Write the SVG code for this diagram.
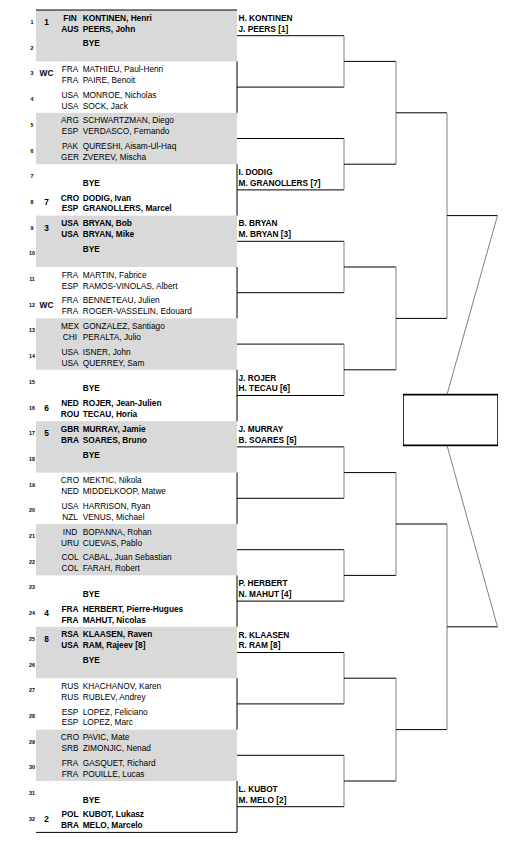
<svg xmlns="http://www.w3.org/2000/svg" width="511" height="843" viewBox="0 0 511 843">
<style>
text{font-family:"Liberation Sans",Arial,sans-serif;font-size:8.3px;fill:#000}
.b{font-weight:bold}
.cc{text-anchor:middle}
.num{font-size:5.3px;font-weight:bold;text-anchor:middle}
.seed{font-weight:bold;text-anchor:middle}
.shade{fill:#d9d9d9}
.h{stroke:#000;stroke-width:1;fill:none}
.v{stroke:#7f7f7f;stroke-width:1;fill:none}
.edge{stroke:#000;stroke-width:1;fill:none}
</style>
<rect width="511" height="843" fill="#fff"/>
<g id="shading">
<rect class="shade" x="36" y="10" width="201" height="51.4"/>
<rect class="shade" x="36" y="112.8" width="201" height="51.4"/>
<rect class="shade" x="36" y="215.6" width="201" height="51.4"/>
<rect class="shade" x="36" y="318.4" width="201" height="51.4"/>
<rect class="shade" x="36" y="421.2" width="201" height="51.4"/>
<rect class="shade" x="36" y="524" width="201" height="51.4"/>
<rect class="shade" x="36" y="626.8" width="201" height="51.4"/>
<rect class="shade" x="36" y="729.6" width="201" height="51.4"/>
</g>
<g id="connectors">
<path class="edge" d="M36 10H237M36 832.4H237M237 61.4V112.8M237 164.2V215.6M237 267V318.4M237 369.8V421.2M237 472.6V524M237 575.4V626.8M237 678.2V729.6M237 781V832.4"/>
<path class="h" d="M237 35.7H344M237 87.1H344M237 138.5H344M237 189.9H344M237 241.3H344M237 292.7H344M237 344.1H344M237 395.5H344M237 446.9H344M237 498.3H344M237 549.7H344M237 601.1H344M237 652.5H344M237 703.9H344M237 755.3H344M237 806.7H344"/>
<path class="v" d="M344 35.7V87.1M344 138.5V189.9M344 241.3V292.7M344 344.1V395.5M344 446.9V498.3M344 549.7V601.1M344 652.5V703.9M344 755.3V806.7"/>
<path class="h" d="M344 61.4H396M344 164.2H396M344 267H396M344 369.8H396M344 472.6H396M344 575.4H396M344 678.2H396M344 781H396"/>
<path class="v" d="M396 61.4V164.2M396 267V369.8M396 472.6V575.4M396 678.2V781"/>
<path class="h" d="M396 112.8H447M396 318.4H447M396 524H447M396 729.6H447"/>
<path class="v" d="M447 112.8V318.4M447 524V729.6"/>
<path class="h" d="M447 215.6H497.5M447 626.8H497.5"/>
<path class="v" d="M497.5 215.6L447 394.5M447 445.5L497.5 626.8"/>
</g>
<g id="final">
<rect x="403.5" y="394.5" width="94" height="51" fill="#fff" stroke="#333" stroke-width="1"/>
<path d="M403 394.6H498M403 445.4H498" stroke="#000" stroke-width="1.6"/>
</g>
<g id="row-1" transform="translate(0,10)"><text class="num" x="32" y="14">1</text><text class="seed" x="46.5" y="15">1</text><text class="cc b" x="70" y="10.7">FIN</text><text class="b" x="82.7" y="10.7">KONTINEN, Henri</text><text class="cc b" x="70" y="21.6">AUS</text><text class="b" x="82.7" y="21.6">PEERS, John</text></g>
<g id="row-2" transform="translate(0,35.7)"><text class="num" x="32" y="14">2</text><text class="b" x="82.7" y="10.7">BYE</text></g>
<g id="row-3" transform="translate(0,61.4)"><text class="num" x="32" y="14">3</text><text class="seed" x="46.5" y="15">WC</text><text class="cc" x="70" y="10.7">FRA</text><text x="82.7" y="10.7">MATHIEU, Paul-Henri</text><text class="cc" x="70" y="21.6">FRA</text><text x="82.7" y="21.6">PAIRE, Benoit</text></g>
<g id="row-4" transform="translate(0,87.1)"><text class="num" x="32" y="14">4</text><text class="cc" x="70" y="10.7">USA</text><text x="82.7" y="10.7">MONROE, Nicholas</text><text class="cc" x="70" y="21.6">USA</text><text x="82.7" y="21.6">SOCK, Jack</text></g>
<g id="row-5" transform="translate(0,112.8)"><text class="num" x="32" y="14">5</text><text class="cc" x="70" y="10.7">ARG</text><text x="82.7" y="10.7">SCHWARTZMAN, Diego</text><text class="cc" x="70" y="21.6">ESP</text><text x="82.7" y="21.6">VERDASCO, Fernando</text></g>
<g id="row-6" transform="translate(0,138.5)"><text class="num" x="32" y="14">6</text><text class="cc" x="70" y="10.7">PAK</text><text x="82.7" y="10.7">QURESHI, Aisam-Ul-Haq</text><text class="cc" x="70" y="21.6">GER</text><text x="82.7" y="21.6">ZVEREV, Mischa</text></g>
<g id="row-7" transform="translate(0,164.2)"><text class="num" x="32" y="14">7</text><text class="b" x="82.7" y="21.6">BYE</text></g>
<g id="row-8" transform="translate(0,189.9)"><text class="num" x="32" y="14">8</text><text class="seed" x="46.5" y="15">7</text><text class="cc b" x="70" y="10.7">CRO</text><text class="b" x="82.7" y="10.7">DODIG, Ivan</text><text class="cc b" x="70" y="21.6">ESP</text><text class="b" x="82.7" y="21.6">GRANOLLERS, Marcel</text></g>
<g id="row-9" transform="translate(0,215.6)"><text class="num" x="32" y="14">9</text><text class="seed" x="46.5" y="15">3</text><text class="cc b" x="70" y="10.7">USA</text><text class="b" x="82.7" y="10.7">BRYAN, Bob</text><text class="cc b" x="70" y="21.6">USA</text><text class="b" x="82.7" y="21.6">BRYAN, Mike</text></g>
<g id="row-10" transform="translate(0,241.3)"><text class="num" x="32" y="14">10</text><text class="b" x="82.7" y="10.7">BYE</text></g>
<g id="row-11" transform="translate(0,267)"><text class="num" x="32" y="14">11</text><text class="cc" x="70" y="10.7">FRA</text><text x="82.7" y="10.7">MARTIN, Fabrice</text><text class="cc" x="70" y="21.6">ESP</text><text x="82.7" y="21.6">RAMOS-VINOLAS, Albert</text></g>
<g id="row-12" transform="translate(0,292.7)"><text class="num" x="32" y="14">12</text><text class="seed" x="46.5" y="15">WC</text><text class="cc" x="70" y="10.7">FRA</text><text x="82.7" y="10.7">BENNETEAU, Julien</text><text class="cc" x="70" y="21.6">FRA</text><text x="82.7" y="21.6">ROGER-VASSELIN, Edouard</text></g>
<g id="row-13" transform="translate(0,318.4)"><text class="num" x="32" y="14">13</text><text class="cc" x="70" y="10.7">MEX</text><text x="82.7" y="10.7">GONZALEZ, Santiago</text><text class="cc" x="70" y="21.6">CHI</text><text x="82.7" y="21.6">PERALTA, Julio</text></g>
<g id="row-14" transform="translate(0,344.1)"><text class="num" x="32" y="14">14</text><text class="cc" x="70" y="10.7">USA</text><text x="82.7" y="10.7">ISNER, John</text><text class="cc" x="70" y="21.6">USA</text><text x="82.7" y="21.6">QUERREY, Sam</text></g>
<g id="row-15" transform="translate(0,369.8)"><text class="num" x="32" y="14">15</text><text class="b" x="82.7" y="21.6">BYE</text></g>
<g id="row-16" transform="translate(0,395.5)"><text class="num" x="32" y="14">16</text><text class="seed" x="46.5" y="15">6</text><text class="cc b" x="70" y="10.7">NED</text><text class="b" x="82.7" y="10.7">ROJER, Jean-Julien</text><text class="cc b" x="70" y="21.6">ROU</text><text class="b" x="82.7" y="21.6">TECAU, Horia</text></g>
<g id="row-17" transform="translate(0,421.2)"><text class="num" x="32" y="14">17</text><text class="seed" x="46.5" y="15">5</text><text class="cc b" x="70" y="10.7">GBR</text><text class="b" x="82.7" y="10.7">MURRAY, Jamie</text><text class="cc b" x="70" y="21.6">BRA</text><text class="b" x="82.7" y="21.6">SOARES, Bruno</text></g>
<g id="row-18" transform="translate(0,446.9)"><text class="num" x="32" y="14">18</text><text class="b" x="82.7" y="10.7">BYE</text></g>
<g id="row-19" transform="translate(0,472.6)"><text class="num" x="32" y="14">19</text><text class="cc" x="70" y="10.7">CRO</text><text x="82.7" y="10.7">MEKTIC, Nikola</text><text class="cc" x="70" y="21.6">NED</text><text x="82.7" y="21.6">MIDDELKOOP, Matwe</text></g>
<g id="row-20" transform="translate(0,498.3)"><text class="num" x="32" y="14">20</text><text class="cc" x="70" y="10.7">USA</text><text x="82.7" y="10.7">HARRISON, Ryan</text><text class="cc" x="70" y="21.6">NZL</text><text x="82.7" y="21.6">VENUS, Michael</text></g>
<g id="row-21" transform="translate(0,524)"><text class="num" x="32" y="14">21</text><text class="cc" x="70" y="10.7">IND</text><text x="82.7" y="10.7">BOPANNA, Rohan</text><text class="cc" x="70" y="21.6">URU</text><text x="82.7" y="21.6">CUEVAS, Pablo</text></g>
<g id="row-22" transform="translate(0,549.7)"><text class="num" x="32" y="14">22</text><text class="cc" x="70" y="10.7">COL</text><text x="82.7" y="10.7">CABAL, Juan Sebastian</text><text class="cc" x="70" y="21.6">COL</text><text x="82.7" y="21.6">FARAH, Robert</text></g>
<g id="row-23" transform="translate(0,575.4)"><text class="num" x="32" y="14">23</text><text class="b" x="82.7" y="21.6">BYE</text></g>
<g id="row-24" transform="translate(0,601.1)"><text class="num" x="32" y="14">24</text><text class="seed" x="46.5" y="15">4</text><text class="cc b" x="70" y="10.7">FRA</text><text class="b" x="82.7" y="10.7">HERBERT, Pierre-Hugues</text><text class="cc b" x="70" y="21.6">FRA</text><text class="b" x="82.7" y="21.6">MAHUT, Nicolas</text></g>
<g id="row-25" transform="translate(0,626.8)"><text class="num" x="32" y="14">25</text><text class="seed" x="46.5" y="15">8</text><text class="cc b" x="70" y="10.7">RSA</text><text class="b" x="82.7" y="10.7">KLAASEN, Raven</text><text class="cc b" x="70" y="21.6">USA</text><text class="b" x="82.7" y="21.6">RAM, Rajeev [8]</text></g>
<g id="row-26" transform="translate(0,652.5)"><text class="num" x="32" y="14">26</text><text class="b" x="82.7" y="10.7">BYE</text></g>
<g id="row-27" transform="translate(0,678.2)"><text class="num" x="32" y="14">27</text><text class="cc" x="70" y="10.7">RUS</text><text x="82.7" y="10.7">KHACHANOV, Karen</text><text class="cc" x="70" y="21.6">RUS</text><text x="82.7" y="21.6">RUBLEV, Andrey</text></g>
<g id="row-28" transform="translate(0,703.9)"><text class="num" x="32" y="14">28</text><text class="cc" x="70" y="10.7">ESP</text><text x="82.7" y="10.7">LOPEZ, Feliciano</text><text class="cc" x="70" y="21.6">ESP</text><text x="82.7" y="21.6">LOPEZ, Marc</text></g>
<g id="row-29" transform="translate(0,729.6)"><text class="num" x="32" y="14">29</text><text class="cc" x="70" y="10.7">CRO</text><text x="82.7" y="10.7">PAVIC, Mate</text><text class="cc" x="70" y="21.6">SRB</text><text x="82.7" y="21.6">ZIMONJIC, Nenad</text></g>
<g id="row-30" transform="translate(0,755.3)"><text class="num" x="32" y="14">30</text><text class="cc" x="70" y="10.7">FRA</text><text x="82.7" y="10.7">GASQUET, Richard</text><text class="cc" x="70" y="21.6">FRA</text><text x="82.7" y="21.6">POUILLE, Lucas</text></g>
<g id="row-31" transform="translate(0,781)"><text class="num" x="32" y="14">31</text><text class="b" x="82.7" y="21.6">BYE</text></g>
<g id="row-32" transform="translate(0,806.7)"><text class="num" x="32" y="14">32</text><text class="seed" x="46.5" y="15">2</text><text class="cc b" x="70" y="10.7">POL</text><text class="b" x="82.7" y="10.7">KUBOT, Lukasz</text><text class="cc b" x="70" y="21.6">BRA</text><text class="b" x="82.7" y="21.6">MELO, Marcelo</text></g>
<g id="win-1" transform="translate(238.5,35.7)"><text class="b" x="0" y="-15">H. KONTINEN</text><text class="b" x="0" y="-4.2">J. PEERS [1]</text></g>
<g id="win-4" transform="translate(238.5,189.9)"><text class="b" x="0" y="-15">I. DODIG</text><text class="b" x="0" y="-4.2">M. GRANOLLERS [7]</text></g>
<g id="win-5" transform="translate(238.5,241.3)"><text class="b" x="0" y="-15">B. BRYAN</text><text class="b" x="0" y="-4.2">M. BRYAN [3]</text></g>
<g id="win-8" transform="translate(238.5,395.5)"><text class="b" x="0" y="-15">J. ROJER</text><text class="b" x="0" y="-4.2">H. TECAU [6]</text></g>
<g id="win-9" transform="translate(238.5,446.9)"><text class="b" x="0" y="-15">J. MURRAY</text><text class="b" x="0" y="-4.2">B. SOARES [5]</text></g>
<g id="win-12" transform="translate(238.5,601.1)"><text class="b" x="0" y="-15">P. HERBERT</text><text class="b" x="0" y="-4.2">N. MAHUT [4]</text></g>
<g id="win-13" transform="translate(238.5,652.5)"><text class="b" x="0" y="-15">R. KLAASEN</text><text class="b" x="0" y="-4.2">R. RAM [8]</text></g>
<g id="win-16" transform="translate(238.5,806.7)"><text class="b" x="0" y="-15">L. KUBOT</text><text class="b" x="0" y="-4.2">M. MELO [2]</text></g>
</svg>
